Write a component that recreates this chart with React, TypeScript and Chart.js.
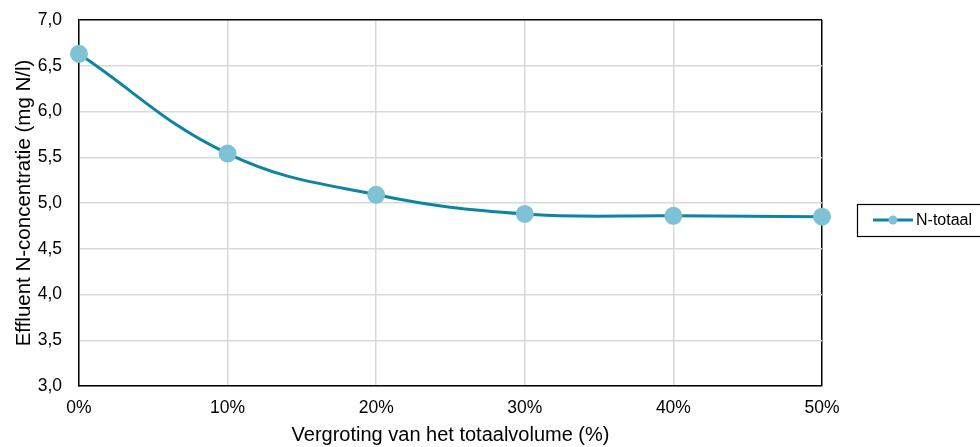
import React, { useEffect, useRef } from "react";
import { Chart, registerables } from "chart.js";

Chart.register(...registerables);

const xValues = [0, 10, 20, 30, 40, 50];
const nTotaal = [6.63, 5.54, 5.09, 4.88, 4.86, 4.85];
const seriesLabel = "N-totaal";
const xTitle = "Vergroting van het totaalvolume (%)";
const yTitle = "Effluent N-concentratie (mg N/l)";

const LINE = "#0e84a2";
const POINT = "#7fc1d5";
const GRID = "#d9d9d9";
const FONT = "'Liberation Sans', Arial, sans-serif";

const legendPlugin = {
  id: "boxLegend",
  afterDraw(chart: any) {
    const ctx = chart.ctx;
    const x = 857, y = 204, w = 130, h = 32;
    ctx.save();
    ctx.fillStyle = "#fff";
    ctx.fillRect(x, y, w, h);
    ctx.strokeStyle = "#000";
    ctx.lineWidth = 1.2;
    ctx.strokeRect(x + 0.5, y + 0.5, w, h);
    const cy = y + h / 2;
    ctx.strokeStyle = LINE;
    ctx.lineWidth = 3;
    ctx.beginPath();
    ctx.moveTo(873, cy);
    ctx.lineTo(913, cy);
    ctx.stroke();
    ctx.fillStyle = POINT;
    ctx.beginPath();
    ctx.arc(893, cy, 4.5, 0, Math.PI * 2);
    ctx.fill();
    ctx.fillStyle = "#000";
    ctx.font = `16px ${FONT}`;
    ctx.textBaseline = "middle";
    ctx.textAlign = "left";
    ctx.fillText(seriesLabel, 916, cy + 1);
    ctx.restore();
  },
};

export default function App() {
  const ref = useRef<HTMLCanvasElement | null>(null);
  useEffect(() => {
    document.body.style.margin = "0";
    const canvas = ref.current!;
    const chart = new Chart(canvas, {
      type: "line",
      data: {
        datasets: [
          {
            label: seriesLabel,
            data: xValues.map((x, i) => ({ x, y: nTotaal[i] })),
            borderColor: LINE,
            backgroundColor: POINT,
            pointBackgroundColor: POINT,
            pointBorderColor: POINT,
            pointRadius: 7.5,
            borderWidth: 3,
            tension: 0.4,
            clip: false as any,
          },
        ],
      },
      options: {
        animation: false,
        responsive: false,
        layout: { padding: { top: 20, right: 158, left: 10, bottom: 0 } },
        plugins: { legend: { display: false }, tooltip: { enabled: false } },
        scales: {
          x: {
            type: "linear",
            min: 0,
            max: 50,
            ticks: {
              stepSize: 10,
              callback: (v: any) => `${v}%`,
              color: "#000",
              font: { family: FONT, size: 17.5 },
              padding: 12,
              maxRotation: 0,
            },
            grid: {
              color: (c: any) => (c.tick && c.tick.value === 50 ? "#000" : GRID),
              lineWidth: 1.5,
              drawTicks: false,
            },
            border: { color: "#000", width: 1.5 },
            title: {
              display: true,
              text: xTitle,
              color: "#000",
              font: { family: FONT, size: 20 },
              padding: { top: 9, bottom: 0 },
            },
            afterFit: (s: any) => {
              s.height = 61;
              s.paddingLeft = 0;
              s.paddingRight = 0;
            },
          },
          y: {
            min: 3,
            max: 7,
            ticks: {
              stepSize: 0.5,
              callback: (v: any) => Number(v).toFixed(1).replace(".", ","),
              color: "#000",
              font: { family: FONT, size: 17.5 },
              padding: 17,
            },
            grid: {
              color: (c: any) => (c.tick && c.tick.value === 7 ? "#000" : GRID),
              lineWidth: 1.5,
              drawTicks: false,
            },
            border: { color: "#000", width: 1.5 },
            title: {
              display: true,
              text: yTitle,
              color: "#000",
              font: { family: FONT, size: 20.5 },
              padding: { top: 2, bottom: 0 },
            },
            afterFit: (s: any) => {
              s.width = 69;
              s.paddingTop = 0;
              s.paddingBottom = 0;
            },
          },
        },
      },
      plugins: [legendPlugin],
    });
    return () => chart.destroy();
  }, []);
  return <canvas ref={ref} width={980} height={447} style={{ display: "block" }} />;
}
